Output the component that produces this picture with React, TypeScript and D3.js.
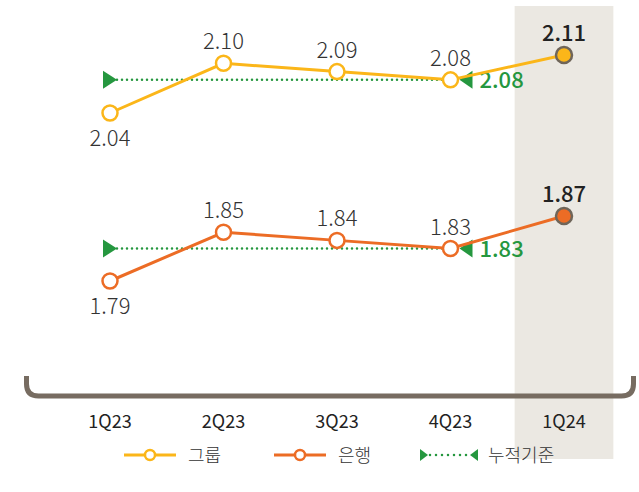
import React from 'react';
import * as d3 from 'd3';

const quarters = ['1Q23', '2Q23', '3Q23', '4Q23', '1Q24'];
const groupValues = [2.04, 2.10, 2.09, 2.08, 2.11];
const bankValues = [1.79, 1.85, 1.84, 1.83, 1.87];
const cumulativeValues = [2.08, 1.83]; // 그룹, 은행
const labelSide = ['below', 'above', 'above', 'above', 'above'];
const legendLabels = ['그룹', '은행', '누적기준'];

const W = 639;
const H = 492;
const YELLOW = '#fbb619';
const ORANGE = '#ec6c25';
const GREEN = '#25973f';
const GREY = '#776c61';
const TEXT = '#333';
const FONT = '"Noto Sans CJK KR", "Noto Sans", sans-serif';

const x = d3.scalePoint<string>().domain(quarters).range([110, 564]);
const yGroup = d3.scaleLinear().domain([2.04, 2.11]).range([113, 55]);
const yBank = d3.scaleLinear().domain([1.79, 1.87]).range([281, 216]);

function Series({values, y, color, cumulative}: {values: number[]; y: d3.ScaleLinear<number, number>; color: string; cumulative: number}) {
  const line = d3.line<number>().x((_, i) => x(quarters[i])!).y(d => y(d));
  const last = values.length - 1;
  const ry = y(cumulative);
  const x0 = x(quarters[0])!;
  const x4 = x(quarters[3])!;
  return (
    <g>
      {/* 누적기준 dotted reference */}
      <line x1={x0 + 7} x2={x4} y1={ry} y2={ry} stroke={GREEN} strokeWidth={2.5}
        strokeDasharray="0 5" strokeLinecap="round" />
      <path d={`M${x0 - 7},${ry - 9} L${x0 + 7},${ry} L${x0 - 7},${ry + 9} Z`} fill={GREEN} />
      <path d={`M${x4 + 9},${ry} L${x4 + 22},${ry - 9} L${x4 + 22},${ry + 9} Z`} fill={GREEN} />
      <text x={x4 + 29} y={ry + 8} fill={GREEN} fontSize={22} fontWeight={500}
        style={{fontFamily: FONT}}>{d3.format('.2f')(cumulative)}</text>

      <path d={line(values) ?? ''} fill="none" stroke={color} strokeWidth={3} />
      {values.map((v, i) => (
        <circle key={i} cx={x(quarters[i])} cy={y(v)} r={i === last ? 8 : 7.5}
          fill={i === last ? color : '#fff'} stroke={i === last ? '#6f6559' : color}
          strokeWidth={2.5} />
      ))}
      {values.map((v, i) => (
        <text key={'t' + i} x={x(quarters[i])} textAnchor="middle"
          y={labelSide[i] === 'below' ? y(v) + 33 : y(v) - 14}
          fill={i === last ? '#222' : TEXT} fontSize={22} fontWeight={i === last ? 500 : 300}
          style={{fontFamily: FONT}}>{d3.format('.2f')(v)}</text>
      ))}
    </g>
  );
}

export default function App() {
  const step = x.step();
  const bx = x(quarters[4])!;
  const bandW = step * 0.87;
  const axisY = 396;
  const L = 26.5, R = 633.5, top = 376, r = 12;
  const bracket = `M${L},${top} L${L},${axisY - r} Q${L},${axisY} ${L + r},${axisY} L${R - r},${axisY} Q${R},${axisY} ${R},${axisY - r} L${R},${top}`;
  const ly = 455;
  const legendX = [150, 300, 420];

  return (
    <svg width={W} height={H} style={{position: 'absolute', left: 0, top: 0, background: '#fff'}}>
      <rect x={bx - bandW / 2} y={6} width={bandW} height={453} fill="#ebe8e2" />

      <Series values={groupValues} y={yGroup} color={YELLOW} cumulative={cumulativeValues[0]} />
      <Series values={bankValues} y={yBank} color={ORANGE} cumulative={cumulativeValues[1]} />

      <path d={bracket} fill="none" stroke={GREY} strokeWidth={5} />
      {quarters.map(q => (
        <text key={q} x={x(q)} y={428} textAnchor="middle" fontSize={18} fontWeight={400}
          fill="#222" style={{fontFamily: FONT}}>{q}</text>
      ))}

      {/* legend */}
      <g style={{fontFamily: FONT}} fontSize={18} fill={TEXT} fontWeight={300}>
        {[YELLOW, ORANGE].map((c, i) => (
          <g key={i}>
            <line x1={legendX[i] - 26} x2={legendX[i] + 26} y1={ly} y2={ly} stroke={c} strokeWidth={3} />
            <circle cx={legendX[i]} cy={ly} r={5} fill="#fff" stroke={c} strokeWidth={2.5} />
            <text x={legendX[i] + 38} y={ly + 7}>{legendLabels[i]}</text>
          </g>
        ))}
        <line x1={legendX[2] + 10} x2={legendX[2] + 50} y1={ly} y2={ly} stroke={GREEN} strokeWidth={2.5}
          strokeDasharray="0 6" strokeLinecap="round" />
        <path d={`M${legendX[2]},${ly - 6} L${legendX[2] + 8},${ly} L${legendX[2]},${ly + 6} Z`} fill={GREEN} />
        <path d={`M${legendX[2] + 50},${ly} L${legendX[2] + 58},${ly - 6} L${legendX[2] + 58},${ly + 6} Z`} fill={GREEN} />
        <text x={legendX[2] + 68} y={ly + 7}>{legendLabels[2]}</text>
      </g>
    </svg>
  );
}
